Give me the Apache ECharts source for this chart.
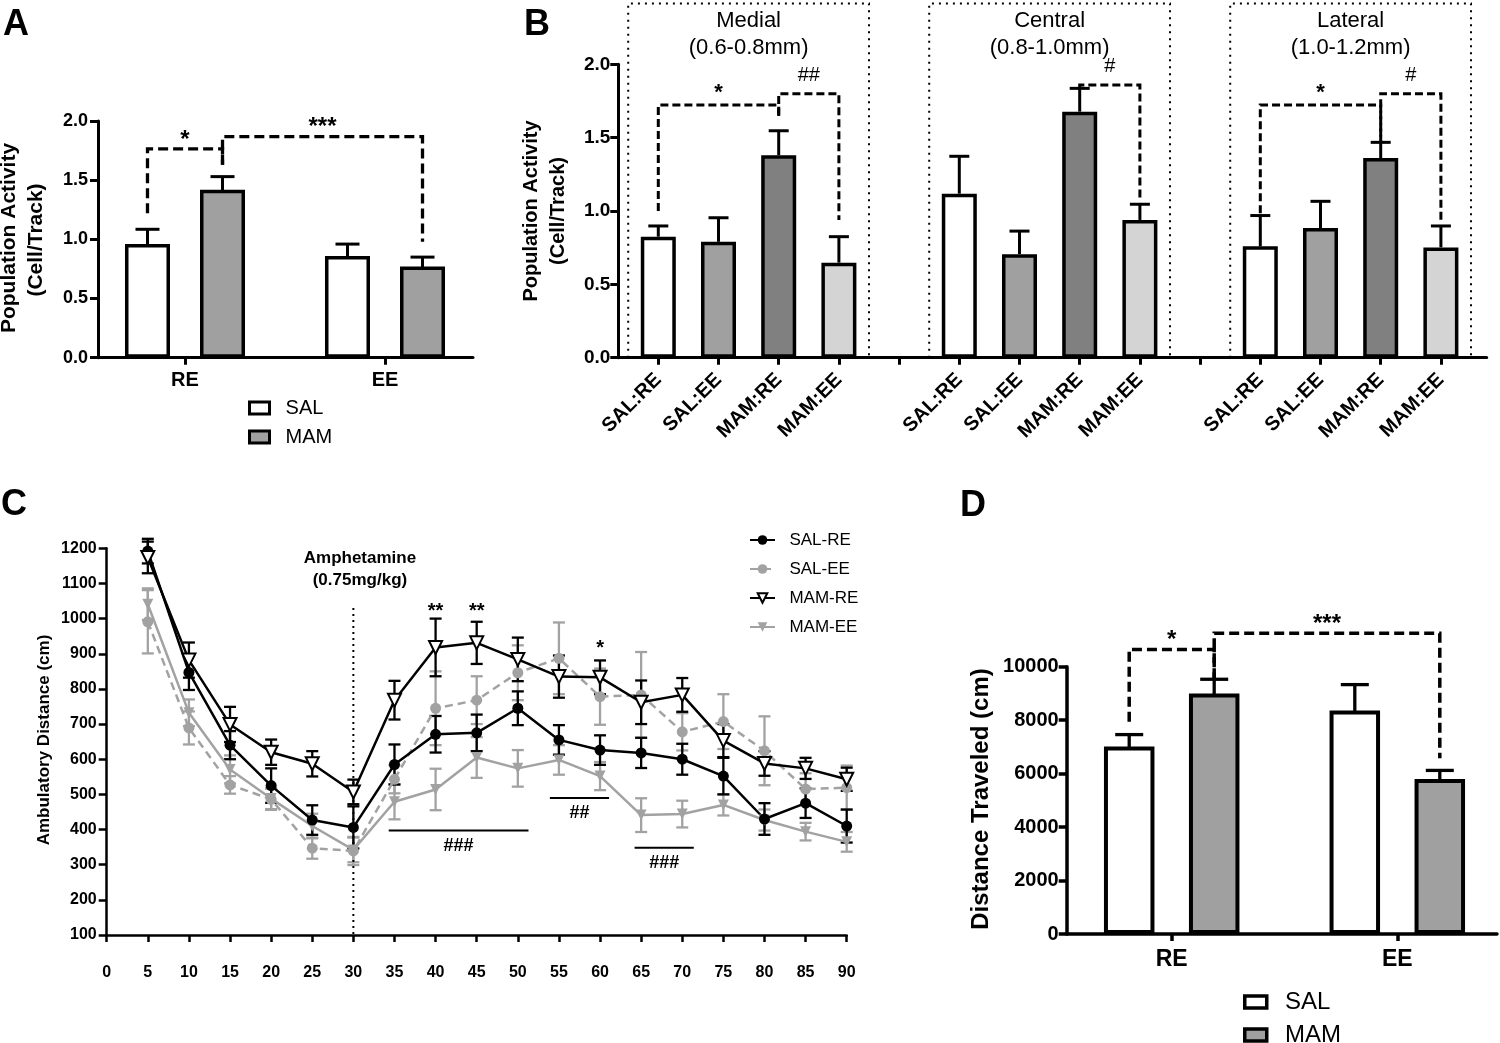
<!DOCTYPE html>
<html>
<head>
<meta charset="utf-8">
<title>Population activity and locomotion</title>
<script src="https://cdn.jsdelivr.net/npm/echarts@6.0.0/dist/echarts.min.js"></script>
<style>
  html, body { margin: 0; padding: 0; background: #fff; }
  #fig { width: 1500px; height: 1043px; }
</style>
</head>
<body>
<div id="fig"></div>
<script>
// ---------- A: population activity, RE vs EE ----------
const groupsA = ['RE', 'EE'];
const salA = [0.96, 0.86];
const salA_sem = [0.125, 0.10];
const mamA = [1.42, 0.77];
const mamA_sem = [0.11, 0.08];

// ---------- B: population activity per region (upper SEM only) ----------
const regionNames = ['Medial', 'Central', 'Lateral'];
const regionRanges = ['(0.6-0.8mm)', '(0.8-1.0mm)', '(1.0-1.2mm)'];
const groupLabelsB = ['SAL:RE', 'SAL:EE', 'MAM:RE', 'MAM:EE'];
const medialB = [0.825, 0.79, 1.38, 0.648];
const medialB_sem = [0.073, 0.164, 0.167, 0.177];
const centralB = [1.118, 0.706, 1.677, 0.939];
const centralB_sem = [0.255, 0.157, 0.159, 0.107];
const lateralB = [0.759, 0.884, 1.361, 0.752];
const lateralB_sem = [0.21, 0.182, 0.107, 0.146];

// ---------- C: ambulatory distance per 5 min bin ----------
const timeC = [5, 10, 15, 20, 25, 30, 35, 40, 45, 50, 55, 60, 65, 70, 75, 80, 85, 90];
const salRE = [1192, 847, 640, 525, 427, 406, 585, 671, 675, 745, 655, 626, 618, 600, 552, 430, 475, 410];
const salRE_sem = [35, 50, 40, 49, 42, 60, 57, 52, 52, 48, 42, 42, 43, 44, 52, 45, 42, 47];
const salEE = [991, 689, 527, 486, 347, 339, 543, 745, 768, 846, 887, 778, 783, 678, 707, 624, 515, 519];
const salEE_sem = [90, 47, 25, 30, 30, 40, 40, 105, 68, 78, 102, 80, 122, 53, 78, 98, 45, 63];
const mamRE = [1174, 882, 699, 620, 587, 507, 768, 918, 931, 884, 835, 833, 762, 783, 653, 588, 574, 543];
const mamRE_sem = [45, 50, 50, 36, 36, 35, 55, 82, 60, 62, 60, 48, 62, 48, 47, 35, 30, 33];
const mamEE = [1041, 732, 571, 488, 410, 342, 479, 514, 605, 574, 598, 552, 441, 444, 470, 427, 394, 365];
const mamEE_sem = [45, 38, 40, 30, 35, 35, 50, 59, 58, 52, 42, 40, 48, 38, 30, 30, 25, 28];

// ---------- D: total distance traveled ----------
const groupsD = ['RE', 'EE'];
const salD = [7010, 8360];
const salD_sem = [450, 970];
const mamD = [9000, 5800];
const mamD_sem = [530, 320];

// significance brackets: a/b = [category, bar slot], y = bar height, ya/yb = leg ends
const bracketsA = [
  { a: [0, -1], b: [0, 1], y: 1.764, ya: 1.22, yb: 1.63, t: '*' },
  { a: [0, 1], b: [1, 1], y: 1.868, ya: 1.63, yb: 0.98, t: '***' }
];
const bracketsB = [
  { a: [0, 0], b: [2, 0], y: 1.722, ya: 1.0, yb: 1.648, t: '*' },
  { a: [2, 0], b: [3, 0], y: 1.80, ya: 1.648, yb: 0.939, t: '##' },
  { a: [7, 0], b: [8, 0], y: 1.859, ya: 1.836, yb: 1.075, t: '#' },
  { a: [10, 0], b: [12, 0], y: 1.722, ya: 0.984, yb: 1.461, t: '*' },
  { a: [12, 0], b: [13, 0], y: 1.80, ya: 1.461, yb: 0.927, t: '#' }
];
const bracketsD = [
  { a: [0, -1], b: [0, 1], y: 10645, ya: 7942, yb: 9566, t: '*' },
  { a: [0, 1], b: [1, 1], y: 11250, ya: 9566, yb: 6573, t: '***' }
];
// panel C marks: stars [time, y, text], hash bars [from, to, y, text]
const starsC = [[40, 1021, '**'], [45, 1021, '**'], [60, 916, '*']];
const hashC = [[34.3, 51.3, 397, '###'], [53.9, 61.1, 490, '##'], [64.2, 71.4, 348, '###']];
const drugTextC = ['Amphetamine', '(0.75mg/kg)'];

const FONT = '"Liberation Sans", Arial, Helvetica, sans-serif';
const GRAY = '#a2a2a2';
const FILL_B = ['#ffffff', '#a0a0a0', '#808080', '#d4d4d4'];
const BAR_A = { w: 45, gap: 0.667 };
const BAR_D = { w: 50.5, gap: 0.683 };
const slotA = BAR_A.w * (1 + BAR_A.gap) / 2;
const slotD = BAR_D.w * (1 + BAR_D.gap) / 2;
const BOX_TOP_B = 2.415;

function font(size, bold) { return (bold ? 'bold ' : '') + size + 'px ' + FONT; }

function textEl(text, x, y, size, bold, extra) {
  return Object.assign({
    type: 'text', x: x, y: y,
    style: { text: text, font: font(size, bold), fill: '#000',
             align: 'center', verticalAlign: 'middle', textAlign: 'center', textVerticalAlign: 'middle' }
  }, extra || {});
}

function errorBars(shiftPx, capW, lw, color, upperOnly) {
  return function (params, api) {
    const x = api.value(0), m = api.value(1), s = api.value(2);
    const top = api.coord([x, m + s]);
    const bot = api.coord([x, upperOnly ? m : m - s]);
    const cx = top[0] + shiftPx;
    const kids = [
      { type: 'line', shape: { x1: cx, y1: top[1], x2: cx, y2: bot[1] }, style: { stroke: color, lineWidth: lw } },
      { type: 'line', shape: { x1: cx - capW / 2, y1: top[1], x2: cx + capW / 2, y2: top[1] }, style: { stroke: color, lineWidth: lw } }
    ];
    if (!upperOnly) {
      kids.push({ type: 'line', shape: { x1: cx - capW / 2, y1: bot[1], x2: cx + capW / 2, y2: bot[1] }, style: { stroke: color, lineWidth: lw } });
    }
    return { type: 'group', children: kids };
  };
}

function brackets(list, slotPx, o) {
  return function (params, api) {
    const b = list[params.dataIndex];
    const xa = api.coord([b.a[0], 0])[0] + b.a[1] * slotPx;
    const xb = api.coord([b.b[0], 0])[0] + b.b[1] * slotPx;
    const y = api.coord([b.a[0], b.y])[1];
    const ya = api.coord([b.a[0], b.ya])[1];
    const yb = api.coord([b.a[0], b.yb])[1];
    const isHash = b.t.indexOf('#') >= 0;
    return {
      type: 'group',
      children: [
        { type: 'polyline', shape: { points: [[xa, ya], [xa, y], [xb, y], [xb, yb]] },
          style: { stroke: '#000', lineWidth: o.lw, lineDash: o.dash, fill: null } },
        textEl(b.t, (xa + xb) / 2, y + (isHash ? o.hashGap : o.starGap), isHash ? o.hashSize : o.starSize, !isHash)
      ]
    };
  };
}

// ---- build panel B categories (empty slot between regions) ----
const catsB = [], barsB = [], errB = [], boxesB = [];
[[medialB, medialB_sem], [centralB, centralB_sem], [lateralB, lateralB_sem]].forEach(function (reg, r) {
  if (r > 0) { catsB.push(''); barsB.push('-'); }
  const first = catsB.length;
  reg[0].forEach(function (v, i) {
    catsB.push(groupLabelsB[i]);
    barsB.push({ value: v, itemStyle: { color: FILL_B[i] } });
    errB.push([catsB.length - 1, v, reg[1][i]]);
  });
  boxesB.push([first, catsB.length - 1]);
});

function boxRenderer(params, api) {
  const r = boxesB[params.dataIndex];
  const bw = api.size([1, 0])[0];
  const x1 = api.coord([r[0], 0])[0] - bw / 2;
  const x2 = api.coord([r[1], 0])[0] + bw / 2;
  const y0 = api.coord([r[0], 0])[1];
  const yt = api.coord([r[0], BOX_TOP_B])[1];
  return {
    type: 'group',
    children: [
      { type: 'polyline', shape: { points: [[x1, y0], [x1, yt], [x2, yt], [x2, y0]] },
        style: { stroke: '#000', lineWidth: 2, lineDash: [2, 5], fill: null } },
      textEl(regionNames[params.dataIndex], (x1 + x2) / 2, yt + 18, 22, false),
      textEl(regionRanges[params.dataIndex], (x1 + x2) / 2, yt + 45, 22, false)
    ]
  };
}

function pairs(vals) { return timeC.map(function (t, i) { return [t, vals[i]]; }); }
function triples(vals, sem) { return timeC.map(function (t, i) { return [t, vals[i], sem[i]]; }); }

// ---- axis helpers ----
function lineOnlyX(grid, lw) {
  return { type: 'value', gridIndex: grid, min: 0, max: 1,
    axisLine: { show: true, onZero: false, lineStyle: { color: '#000', width: lw } },
    axisTick: { show: false }, axisLabel: { show: false }, splitLine: { show: false } };
}
function valueY(grid, min, max, step, lw, size, margin, fmt) {
  return { type: 'value', gridIndex: grid, min: min, max: max, interval: step,
    axisLine: { show: true, onZero: false, lineStyle: { color: '#000', width: lw } },
    axisTick: { show: true, length: 8, lineStyle: { color: '#000', width: lw } },
    axisLabel: { fontFamily: FONT, fontWeight: 'bold', fontSize: size, color: '#000', margin: margin, formatter: fmt },
    splitLine: { show: false } };
}
function hiddenY(grid, min, max) {
  return { type: 'value', gridIndex: grid, min: min, max: max, show: false };
}
function catX(grid, data, lw, size, margin, rotate) {
  return { type: 'category', gridIndex: grid, data: data,
    axisLine: { show: false },
    axisTick: { show: true, alignWithLabel: true, interval: 0, length: 7, lineStyle: { color: '#000', width: lw } },
    axisLabel: { interval: 0, rotate: rotate || 0, fontFamily: FONT, fontWeight: 'bold', fontSize: size, color: '#000', margin: margin },
    splitLine: { show: false } };
}
function barLegend(names, left, top, size, bw, iw) {
  return { data: names, orient: 'vertical', left: left, top: top, padding: 0, icon: 'rect',
    itemWidth: iw, itemHeight: 12, itemGap: 9, selectedMode: false,
    itemStyle: { borderColor: '#000', borderWidth: bw },
    textStyle: { fontFamily: FONT, fontSize: size, lineHeight: 20, color: '#000' },
    formatter: function (n) { return '  ' + n; } };
}

const fmt1 = function (v) { return v.toFixed(1); };
const fmt0 = function (v) { return String(v); };

const chart = echarts.init(document.getElementById('fig'));

const option = {
  animation: false,
  backgroundColor: '#fff',
  textStyle: { fontFamily: FONT },
  grid: [
    { left: 98, top: 121, width: 375, height: 236.7, outerBoundsMode: 'none' },     // 0 A axes
    { left: 85, top: 121, width: 400, height: 236.7, outerBoundsMode: 'none' },     // 1 A bars
    { left: 618.3, top: 64.3, width: 868.4, height: 293.4, outerBoundsMode: 'none' }, // 2 B axes
    { left: 628.2, top: 64.3, width: 842.8, height: 293.4, outerBoundsMode: 'none' }, // 3 B bars
    { left: 106.7, top: 548.3, width: 740, height: 386.7, outerBoundsMode: 'none' },  // 4 C
    { left: 1066.7, top: 666.7, width: 430.3, height: 267.3, outerBoundsMode: 'none' }, // 5 D axes
    { left: 1058.9, top: 666.7, width: 451.2, height: 267.3, outerBoundsMode: 'none' }  // 6 D bars
  ],
  xAxis: [
    lineOnlyX(0, 3),
    catX(1, groupsA, 3, 20, 13),
    lineOnlyX(2, 3),
    catX(3, catsB, 3, 20, 19, 45),
    { type: 'value', gridIndex: 4, min: 0, max: 90, interval: 5,
      axisLine: { show: true, onZero: false, lineStyle: { color: '#000', width: 2.5 } },
      axisTick: { show: true, length: 7, lineStyle: { color: '#000', width: 2.5 } },
      axisLabel: { fontFamily: FONT, fontWeight: 'bold', fontSize: 16, color: '#000', margin: 30 },
      splitLine: { show: false } },
    lineOnlyX(5, 3.5),
    catX(6, groupsD, 3.5, 23, 14)
  ],
  yAxis: [
    valueY(0, 0, 2, 0.5, 3, 18, 10, fmt1),
    hiddenY(1, 0, 2),
    valueY(2, 0, 2, 0.5, 3, 19, 8, fmt1),
    hiddenY(3, 0, 2),
    valueY(4, 100, 1200, 100, 2.5, 16, 10, fmt0),
    valueY(5, 0, 10000, 2000, 3.5, 20, 8, fmt0),
    hiddenY(6, 0, 10000)
  ],
  legend: [
    barLegend(['SAL', 'MAM'], 248, 398, 20, 3, 20),
    { data: ['SAL-RE', 'SAL-EE', 'MAM-RE', 'MAM-EE'], orient: 'vertical', left: 749, top: 530, padding: 0,
      itemWidth: 25, itemHeight: 12, itemGap: 9, selectedMode: false,
      textStyle: { fontFamily: FONT, fontSize: 17, lineHeight: 20, color: '#000' },
      formatter: function (n) { return '  ' + n; } },
    barLegend(['SAL'], 1243, 990, 24, 3.5, 22),
    barLegend(['MAM'], 1243, 1023, 24, 3.5, 22)
  ],
  graphic: [
    textEl('A', 16, 25, 36, true),
    textEl('B', 537, 25, 36, true),
    textEl('C', 14, 505, 36, true),
    textEl('D', 973, 506, 36, true),
    textEl('Population Activity', 9.5, 238, 21, true, { rotation: Math.PI / 2 }),
    textEl('(Cell/Track)', 36, 240, 21, true, { rotation: Math.PI / 2 }),
    textEl('Population Activity', 531.5, 211, 20, true, { rotation: Math.PI / 2 }),
    textEl('(Cell/Track)', 558, 211, 20, true, { rotation: Math.PI / 2 }),
    textEl('Ambulatory Distance (cm)', 44.5, 740, 17, true, { rotation: Math.PI / 2 }),
    textEl('Distance Traveled (cm)', 981, 799, 24, true, { rotation: Math.PI / 2 })
  ],
  series: [
    // ---- A ----
    { type: 'bar', name: 'SAL', xAxisIndex: 1, yAxisIndex: 1, data: salA,
      barWidth: BAR_A.w, barGap: (BAR_A.gap * 100) + '%',
      itemStyle: { color: '#ffffff', borderColor: '#000', borderWidth: 3.5 } },
    { type: 'bar', name: 'MAM', xAxisIndex: 1, yAxisIndex: 1, data: mamA,
      barWidth: BAR_A.w, barGap: (BAR_A.gap * 100) + '%',
      itemStyle: { color: '#a0a0a0', borderColor: '#000', borderWidth: 3.5 } },
    { type: 'custom', name: 'errSALA', xAxisIndex: 1, yAxisIndex: 1, clip: false, silent: true,
      data: salA.map(function (v, i) { return [i, v, salA_sem[i]]; }),
      renderItem: errorBars(-slotA, 24, 3, '#000', false) },
    { type: 'custom', name: 'errMAMA', xAxisIndex: 1, yAxisIndex: 1, clip: false, silent: true,
      data: mamA.map(function (v, i) { return [i, v, mamA_sem[i]]; }),
      renderItem: errorBars(slotA, 24, 3, '#000', false) },
    { type: 'custom', name: 'sigA', xAxisIndex: 1, yAxisIndex: 1, clip: false, silent: true,
      data: bracketsA.map(function (b) { return [b.a[0], b.y]; }),
      renderItem: brackets(bracketsA, slotA, { lw: 3.3, dash: [10, 5], starSize: 24, starGap: -9, hashSize: 20, hashGap: -18 }) },

    // ---- B ----
    { type: 'bar', name: 'regionB', xAxisIndex: 3, yAxisIndex: 3, data: barsB, barWidth: 35,
      itemStyle: { borderColor: '#000', borderWidth: 3.5 } },
    { type: 'custom', name: 'errB', xAxisIndex: 3, yAxisIndex: 3, clip: false, silent: true,
      data: errB, renderItem: errorBars(0, 20, 3, '#000', true) },
    { type: 'custom', name: 'boxB', xAxisIndex: 3, yAxisIndex: 3, clip: false, silent: true,
      data: boxesB.map(function (r) { return [r[0], 0]; }), renderItem: boxRenderer },
    { type: 'custom', name: 'sigB', xAxisIndex: 3, yAxisIndex: 3, clip: false, silent: true,
      data: bracketsB.map(function (b) { return [b.a[0], b.y]; }),
      renderItem: brackets(bracketsB, 0, { lw: 3, dash: [8, 4], starSize: 22, starGap: -11.7, hashSize: 20, hashGap: -18.5 }) },

    // ---- C ----
    { type: 'custom', name: 'errSALEE', xAxisIndex: 4, yAxisIndex: 4, clip: false, silent: true,
      data: triples(salEE, salEE_sem), renderItem: errorBars(0, 12, 2.3, GRAY, false) },
    { type: 'line', name: 'SAL-EE', xAxisIndex: 4, yAxisIndex: 4, data: pairs(salEE),
      symbol: 'circle', symbolSize: 11,
      lineStyle: { color: GRAY, width: 2.5, type: [8, 5] }, itemStyle: { color: GRAY } },
    { type: 'custom', name: 'errMAMEE', xAxisIndex: 4, yAxisIndex: 4, clip: false, silent: true,
      data: triples(mamEE, mamEE_sem), renderItem: errorBars(0, 12, 2.3, GRAY, false) },
    { type: 'line', name: 'MAM-EE', xAxisIndex: 4, yAxisIndex: 4, data: pairs(mamEE),
      symbol: 'triangle', symbolRotate: 180, symbolSize: 11,
      lineStyle: { color: GRAY, width: 2.5 }, itemStyle: { color: GRAY } },
    { type: 'custom', name: 'errSALRE', xAxisIndex: 4, yAxisIndex: 4, clip: false, silent: true,
      data: triples(salRE, salRE_sem), renderItem: errorBars(0, 12, 2.3, '#000', false) },
    { type: 'line', name: 'SAL-RE', xAxisIndex: 4, yAxisIndex: 4, data: pairs(salRE),
      symbol: 'circle', symbolSize: 11,
      lineStyle: { color: '#000', width: 2.5 }, itemStyle: { color: '#000' } },
    { type: 'custom', name: 'errMAMRE', xAxisIndex: 4, yAxisIndex: 4, clip: false, silent: true,
      data: triples(mamRE, mamRE_sem), renderItem: errorBars(0, 12, 2.3, '#000', false) },
    { type: 'line', name: 'MAM-RE', xAxisIndex: 4, yAxisIndex: 4, data: pairs(mamRE),
      symbol: 'triangle', symbolRotate: 180, symbolSize: 13,
      lineStyle: { color: '#000', width: 2.5 },
      itemStyle: { color: '#ffffff', borderColor: '#000', borderWidth: 2 } },
    // drug onset line and label
    { type: 'custom', name: 'drugC', xAxisIndex: 4, yAxisIndex: 4, clip: false, silent: true,
      data: [[30, 1030]],
      renderItem: function (params, api) {
        const top = api.coord([30, 1030]), bot = api.coord([30, 100]);
        const t1 = api.coord([30.8, 1172]), t2 = api.coord([30.8, 1110]);
        return { type: 'group', children: [
          { type: 'line', shape: { x1: top[0], y1: top[1], x2: bot[0], y2: bot[1] },
            style: { stroke: '#000', lineWidth: 2, lineDash: [2, 4] } },
          textEl(drugTextC[0], t1[0], t1[1], 17, true),
          textEl(drugTextC[1], t2[0], t2[1], 17, true)
        ] };
      } },
    { type: 'custom', name: 'starsC', xAxisIndex: 4, yAxisIndex: 4, clip: false, silent: true,
      data: starsC.map(function (s) { return [s[0], s[1]]; }),
      renderItem: function (params, api) {
        const p = api.coord([api.value(0), api.value(1)]);
        return textEl(starsC[params.dataIndex][2], p[0], p[1], 20, true);
      } },
    { type: 'custom', name: 'hashC', xAxisIndex: 4, yAxisIndex: 4, clip: false, silent: true,
      data: hashC.map(function (h) { return [h[0], h[2]]; }),
      renderItem: function (params, api) {
        const h = hashC[params.dataIndex];
        const p1 = api.coord([h[0], h[2]]), p2 = api.coord([h[1], h[2]]);
        return { type: 'group', children: [
          { type: 'line', shape: { x1: p1[0], y1: p1[1], x2: p2[0], y2: p2[1] }, style: { stroke: '#000', lineWidth: 2 } },
          textEl(h[3], (p1[0] + p2[0]) / 2, p1[1] + 15.5, 18, true)
        ] };
      } },

    // ---- D ----
    { type: 'bar', name: 'SAL', xAxisIndex: 6, yAxisIndex: 6, data: salD,
      barWidth: BAR_D.w, barGap: (BAR_D.gap * 100) + '%',
      itemStyle: { color: '#ffffff', borderColor: '#000', borderWidth: 4 } },
    { type: 'bar', name: 'MAM', xAxisIndex: 6, yAxisIndex: 6, data: mamD,
      barWidth: BAR_D.w, barGap: (BAR_D.gap * 100) + '%',
      itemStyle: { color: '#a0a0a0', borderColor: '#000', borderWidth: 4 } },
    { type: 'custom', name: 'errSALD', xAxisIndex: 6, yAxisIndex: 6, clip: false, silent: true,
      data: salD.map(function (v, i) { return [i, v, salD_sem[i]]; }),
      renderItem: errorBars(-slotD, 28, 3.3, '#000', false) },
    { type: 'custom', name: 'errMAMD', xAxisIndex: 6, yAxisIndex: 6, clip: false, silent: true,
      data: mamD.map(function (v, i) { return [i, v, mamD_sem[i]]; }),
      renderItem: errorBars(slotD, 28, 3.3, '#000', false) },
    { type: 'custom', name: 'sigD', xAxisIndex: 6, yAxisIndex: 6, clip: false, silent: true,
      data: bracketsD.map(function (b) { return [b.a[0], b.y]; }),
      renderItem: brackets(bracketsD, slotD, { lw: 3.5, dash: [10, 5], starSize: 24, starGap: -9, hashSize: 20, hashGap: -18 }) }
  ]
};

chart.setOption(option);
</script>
</body>
</html>
